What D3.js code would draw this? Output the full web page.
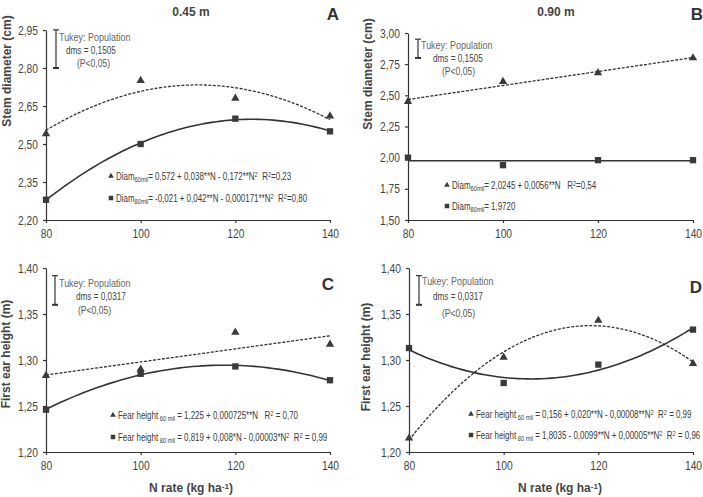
<!DOCTYPE html>
<html>
<head>
<meta charset="utf-8">
<script src="https://cdn.jsdelivr.net/npm/d3@7"></script>
<style>
  body { margin: 0; background: #fff; }
  svg { font-family: "Liberation Sans", Arial, sans-serif; }
  text { white-space: pre; }
</style>
</head>
<body>
<script>
// N rates (x categories)
var nRates = [80, 100, 120, 140];

// stem diameter (cm), row spacing 0.45 m and 0.90 m
var diam045Tri = [2.54, 2.75, 2.68, 2.61];
var diam045Sq = [2.28, 2.50, 2.60, 2.55];
var diam090Tri = [2.45, 2.61, 2.68, 2.80];
var diam090Sq = [2.00, 1.94, 1.98, 1.98];

// first ear height (m)
var ear045Tri = [1.283, 1.290, 1.330, 1.317];
var ear045Sq = [1.246, 1.285, 1.293, 1.278];
var ear090Tri = [1.215, 1.303, 1.343, 1.296];
var ear090Sq = [1.313, 1.275, 1.295, 1.333];

// tick labels
var ticksA = [2.20, 2.35, 2.50, 2.65, 2.80, 2.95];
var ticksB = [1.50, 1.75, 2.00, 2.25, 2.50, 2.75, 3.00];
var ticksCD = [1.20, 1.25, 1.30, 1.35, 1.40];

// Tukey bars: [base, dms]
var tukeyDiam = [2.80, 0.1505];
var tukeyEar = [1.36, 0.0317];

// legend texts (segments: text, "sub"/"sup")
var legA = [
  [["Diam"], ["60mil", "sub"], ["= 0,572 + 0,038**N - 0,172**N"], ["2", "sup"], ["  R"], ["2", "sup"], ["=0,23"]],
  [["Diam"], ["80mil", "sub"], ["= -0,021 + 0,042**N - 0,000171**N"], ["2", "sup"], ["  R"], ["2", "sup"], ["=0,80"]]
];
var legB = [
  [["Diam"], ["60mil", "sub"], ["= 2,0245 + 0,0056**N   R"], ["2", "sup"], ["=0,54"]],
  [["Diam"], ["80mil", "sub"], ["= 1,9720"]]
];
var legC = [
  [["Fear height"], [" 60 mil", "sub"], [" = 1,225 + 0,000725**N   R"], ["2", "sup"], [" = 0,70"]],
  [["Fear height"], [" 80 mil", "sub"], [" = 0,819 + 0,008*N - 0,00003*N"], ["2", "sup"], ["  R"], ["2", "sup"], [" = 0,99"]]
];
var legD = [
  [["Fear height"], [" 60 mil", "sub"], [" = 0,156 + 0,020**N - 0,00008**N"], ["2", "sup"], ["  R"], ["2", "sup"], [" = 0,99"]],
  [["Fear height"], [" 80 mil", "sub"], [" = 1,8035 - 0,0099**N + 0,00005**N"], ["2", "sup"], ["  R"], ["2", "sup"], [" = 0,96"]]
];

var width = 703, height = 497;
var ink = "#333";
var narrow = 0.78; // the figure's text is horizontally condensed
var fmt = d3.formatLocale({ decimal: ",", thousands: ".", grouping: [3], currency: ["", ""] }).format(".2f");

var svg = d3.select("body").append("svg")
  .attr("width", width)
  .attr("height", height);

// least squares polynomial fit (x centred on 110)
function polyfit(xs, ys, deg) {
  var n = deg + 1;
  var A = [], b = [];
  for (var i = 0; i < n; i++) {
    A.push([]);
    b.push(d3.sum(xs, function (x, k) { return ys[k] * Math.pow(x - 110, i); }));
    for (var j = 0; j < n; j++) {
      A[i].push(d3.sum(xs, function (x) { return Math.pow(x - 110, i + j); }));
    }
  }
  for (var c = 0; c < n; c++) {
    for (var r = c + 1; r < n; r++) {
      var f = A[r][c] / A[c][c];
      for (var k = c; k < n; k++) A[r][k] -= f * A[c][k];
      b[r] -= f * b[c];
    }
  }
  var coef = new Array(n);
  for (var r2 = n - 1; r2 >= 0; r2--) {
    var s = b[r2];
    for (var k2 = r2 + 1; k2 < n; k2++) s -= A[r2][k2] * coef[k2];
    coef[r2] = s / A[r2][r2];
  }
  return function (x) {
    return d3.sum(coef, function (cf, p) { return cf * Math.pow(x - 110, p); });
  };
}

// condensed text placed at (x, y)
function nText(g, x, y, size, color) {
  return g.append("text")
    .attr("transform", "translate(" + x + "," + y + ") scale(" + narrow + ",1)")
    .attr("font-size", size).attr("fill", color || "#3a3a3a");
}

function richText(g, x, y, parts, size) {
  var t = nText(g, x, y, size);
  parts.forEach(function (p) {
    var ts = t.append("tspan").text(p[0]);
    if (p[1] === "sub") ts.attr("baseline-shift", "-25%").attr("font-size", size * 0.72);
    if (p[1] === "sup") ts.attr("baseline-shift", "40%").attr("font-size", size * 0.72);
  });
  return t;
}

function drawPanel(cfg) {
  var g = svg.append("g");
  var x = d3.scaleLinear().domain([80, 140]).range([cfg.x0, cfg.x1]);
  var y = d3.scaleLinear().domain(d3.extent(cfg.ticks)).range([cfg.yBot, cfg.yTop]);

  // axes
  var xa = g.append("g")
    .attr("transform", "translate(0," + cfg.yBot + ")")
    .call(d3.axisBottom(x).tickValues(nRates).tickSize(3).tickSizeOuter(0).tickPadding(6));
  var ya = g.append("g")
    .attr("transform", "translate(" + cfg.x0 + ",0)")
    .call(d3.axisLeft(y).tickValues(cfg.ticks).tickFormat(fmt).tickSize(3).tickSizeOuter(0).tickPadding(5));
  [xa, ya].forEach(function (a) {
    a.attr("font-family", null).attr("font-size", 12.5);
    a.selectAll("path, line").attr("stroke", ink).attr("stroke-width", 1.2);
    a.selectAll("text").attr("fill", "#444");
  });
  xa.selectAll("text").attr("transform", "scale(0.82,1)");
  ya.selectAll("text").attr("transform", "translate(-1.5,0) scale(0.82,1)");

  // trend curves
  var xs = d3.range(80, 140.01, 1);
  var line = d3.line().x(function (d) { return x(d[0]); }).y(function (d) { return y(d[1]); });
  var fTri = polyfit(nRates, cfg.tri, cfg.degTri);
  var fSq = polyfit(nRates, cfg.sq, cfg.degSq);
  g.append("path")
    .datum(xs.map(function (v) { return [v, fTri(v)]; }))
    .attr("d", line).attr("fill", "none")
    .attr("stroke", ink).attr("stroke-width", 1.3).attr("stroke-dasharray", "3,1.5");
  g.append("path")
    .datum(xs.map(function (v) { return [v, fSq(v)]; }))
    .attr("d", line).attr("fill", "none")
    .attr("stroke", ink).attr("stroke-width", 1.6);

  // points
  var tri = d3.symbol(d3.symbolTriangle, 30);
  var sq = d3.symbol(d3.symbolSquare, 40);
  g.selectAll(".tri").data(cfg.tri).enter().append("path")
    .attr("d", tri)
    .attr("transform", function (d, i) { return "translate(" + x(nRates[i]) + "," + y(d) + ")"; })
    .attr("fill", "#3a3a3a");
  g.selectAll(".sq").data(cfg.sq).enter().append("path")
    .attr("d", sq)
    .attr("transform", function (d, i) { return "translate(" + x(nRates[i]) + "," + y(d) + ")"; })
    .attr("fill", "#3a3a3a");

  // Tukey bar
  var tb = cfg.tukey;
  var bx = cfg.barX;
  g.append("line").attr("x1", bx).attr("x2", bx).attr("y1", y(tb[0])).attr("y2", y(tb[0] + tb[1]))
    .attr("stroke", ink).attr("stroke-width", 1.2);
  g.append("line").attr("x1", bx - 3).attr("x2", bx + 3).attr("y1", y(tb[0] + tb[1])).attr("y2", y(tb[0] + tb[1]))
    .attr("stroke", ink).attr("stroke-width", 1.2);
  g.append("line").attr("x1", bx - 3).attr("x2", bx + 3).attr("y1", y(tb[0])).attr("y2", y(tb[0]))
    .attr("stroke", ink).attr("stroke-width", 2);
  nText(g, cfg.tk[0][0], cfg.tk[0][1], 11.5, "#666").text("Tukey: Population");
  nText(g, cfg.tk[1][0], cfg.tk[1][1], 10.5, "#444").text("dms = " + cfg.dmsLabel);
  nText(g, cfg.tk[2][0], cfg.tk[2][1], 11, "#555").text("(P<0,05)");

  // legend
  cfg.leg.forEach(function (parts, i) {
    var ly = cfg.legY[i];
    g.append("path")
      .attr("d", i === 0 ? d3.symbol(d3.symbolTriangle, 14) : d3.symbol(d3.symbolSquare, 20))
      .attr("transform", "translate(" + cfg.legX + "," + (ly - 4) + ")")
      .attr("fill", "#3a3a3a");
    richText(g, cfg.legX + 5, ly, parts, 10.2);
  });

  // y label
  g.append("text")
    .attr("transform", "translate(" + cfg.ylab[0] + "," + cfg.ylab[1] + ") rotate(-90)")
    .attr("text-anchor", "middle")
    .attr("font-weight", "bold").attr("font-size", 12).attr("fill", "#444")
    .text(cfg.ylabel);

  // panel letter
  g.append("text").attr("x", cfg.letter[0]).attr("y", cfg.letter[1])
    .attr("text-anchor", "middle")
    .attr("font-weight", "bold").attr("font-size", 17).attr("fill", "#333")
    .text(cfg.name);
}

drawPanel({
  name: "A", x0: 46, x1: 330, yTop: 30, yBot: 220, ticks: ticksA,
  tri: diam045Tri, sq: diam045Sq, degTri: 2, degSq: 2,
  tukey: tukeyDiam, dmsLabel: "0,1505", barX: 56,
  tk: [[59, 41], [66, 54], [77, 67]],
  leg: legA, legX: 111, legY: [180, 202],
  ylab: [11, 71], ylabel: "Stem diameter (cm)", letter: [333, 20]
});
drawPanel({
  name: "B", x0: 408, x1: 693, yTop: 33, yBot: 220, ticks: ticksB,
  tri: diam090Tri, sq: diam090Sq, degTri: 1, degSq: 0,
  tukey: tukeyDiam, dmsLabel: "0,1505", barX: 418,
  tk: [[421, 49], [433, 62], [442, 75]],
  leg: legB, legX: 447, legY: [189, 210],
  ylab: [372, 74], ylabel: "Stem diameter (cm)", letter: [697, 20]
});
drawPanel({
  name: "C", x0: 46, x1: 330, yTop: 268, yBot: 452, ticks: ticksCD,
  tri: ear045Tri, sq: ear045Sq, degTri: 1, degSq: 2,
  tukey: tukeyEar, dmsLabel: "0,0317", barX: 55,
  tk: [[59, 287], [76, 300], [78, 314]],
  leg: legC, legX: 113, legY: [419, 441],
  ylab: [10, 354], ylabel: "First ear height (m)", letter: [328, 290]
});
drawPanel({
  name: "D", x0: 409, x1: 693, yTop: 268, yBot: 452, ticks: ticksCD,
  tri: ear090Tri, sq: ear090Sq, degTri: 2, degSq: 2,
  tukey: tukeyEar, dmsLabel: "0,0317", barX: 419,
  tk: [[422, 285], [433, 300], [442, 317]],
  leg: legD, legX: 471, legY: [418, 439],
  ylab: [370, 357], ylabel: "First ear height (m)", letter: [696, 293]
});

// column titles
[["0.45 m", 191], ["0.90 m", 556]].forEach(function (t) {
  svg.append("text").attr("x", t[1]).attr("y", 16).attr("text-anchor", "middle")
    .attr("font-weight", "bold").attr("font-size", 12).attr("fill", "#444").text(t[0]);
});

// x axis titles
[191, 560].forEach(function (cx) {
  var t = svg.append("text")
    .attr("x", cx).attr("y", 492)
    .attr("text-anchor", "middle")
    .attr("font-weight", "bold").attr("font-size", 12).attr("fill", "#444");
  t.append("tspan").text("N rate (kg ha");
  t.append("tspan").attr("baseline-shift", "40%").attr("font-size", 8).text("-1");
  t.append("tspan").text(")");
});
</script>
</body>
</html>
